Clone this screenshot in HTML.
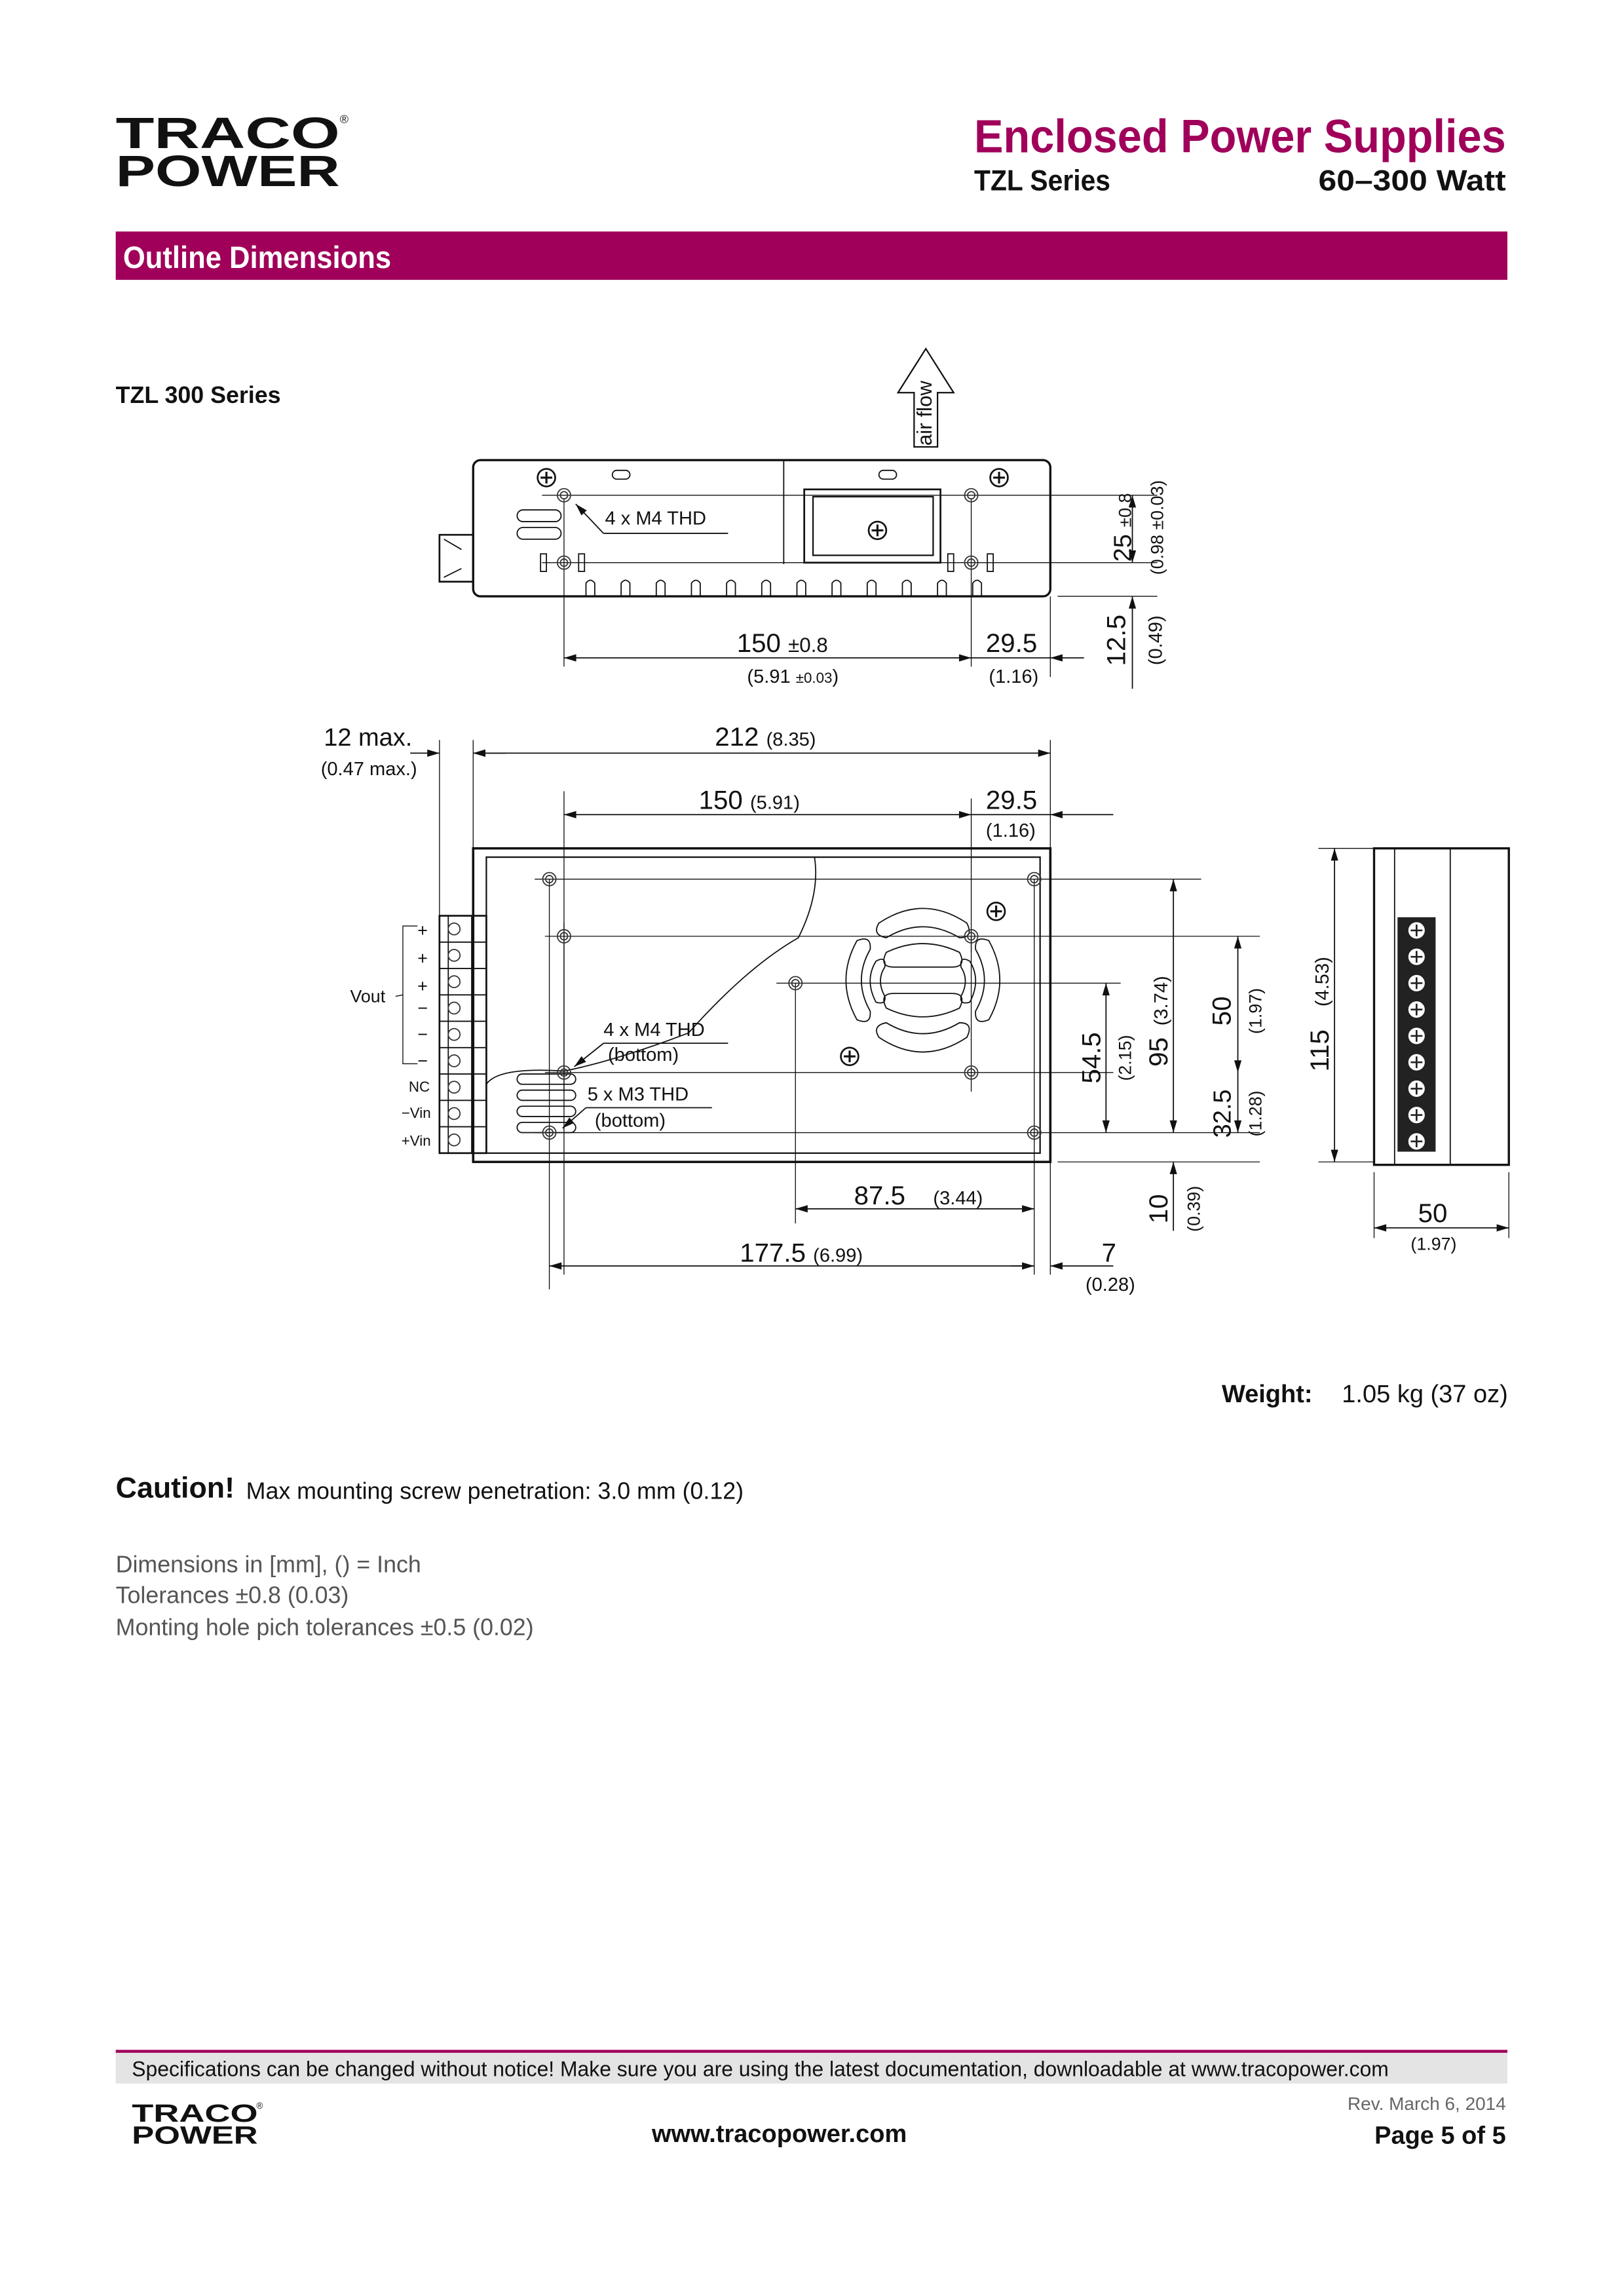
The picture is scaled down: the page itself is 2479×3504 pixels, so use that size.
<!DOCTYPE html>
<html><head><meta charset="utf-8"><style>
html,body{margin:0;padding:0;background:#fff}
svg{display:block}
text{font-family:"Liberation Sans",sans-serif;fill:#111}
</style></head><body>
<svg width="2479" height="3504" viewBox="0 0 1108.6 1567" xmlns="http://www.w3.org/2000/svg">
<defs>
<marker id="a" viewBox="0 0 10 6" refX="10" refY="3" markerWidth="14" markerHeight="5" markerUnits="userSpaceOnUse" orient="auto-start-reverse"><path d="M0,0L10,3L0,6z" fill="#111"/></marker>
<g id="hole"><circle r="4.5" fill="none" stroke="#333" stroke-width="0.8"/><circle r="2.5" fill="none" stroke="#333" stroke-width="0.8"/></g>
<g id="scr"><circle r="6" fill="#fff" stroke="#111" stroke-width="1.2"/><path d="M-4,0H4M0,-4V4" stroke="#111" stroke-width="1.4"/></g>
</defs>
<!-- header -->
<text x="79" y="101" font-size="30" font-weight="bold" textLength="153" lengthAdjust="spacingAndGlyphs">TRACO</text>
<text x="232" y="84" font-size="8">®</text>
<text x="79" y="127" font-size="30" font-weight="bold" textLength="153" lengthAdjust="spacingAndGlyphs">POWER</text>
<text x="665" y="104" font-size="32" font-weight="bold" textLength="363" lengthAdjust="spacingAndGlyphs" style="fill:#a0005a">Enclosed Power Supplies</text>
<text x="665" y="130" font-size="20" font-weight="bold" textLength="93" lengthAdjust="spacingAndGlyphs">TZL Series</text>
<text x="900" y="130" font-size="20" font-weight="bold" textLength="128" lengthAdjust="spacingAndGlyphs">60–300 Watt</text>
<rect x="79" y="158" width="950" height="33" fill="#a0005a"/>
<text x="84" y="183" font-size="21" font-weight="bold" textLength="183" lengthAdjust="spacingAndGlyphs" style="fill:#fff">Outline Dimensions</text>
<text x="79" y="275" font-size="16" font-weight="bold">TZL 300 Series</text>

<g stroke="#111" fill="none" stroke-width="0.8">
<path d="M632,238L651,268H640V305H624V268H613Z" stroke-width="1"/>
<path d="M300,365H323V397H300Z" stroke-width="1.2"/>
<path d="M303,368L315,375M303,394L315,388"/>
<rect x="323" y="314" width="394" height="93" rx="5" stroke-width="1.5"/>
<path d="M535,314V385"/>
<rect x="549" y="334" width="93" height="50" stroke-width="1.2"/>
<rect x="555" y="339" width="82" height="40" stroke-width="1"/>
<rect x="418" y="321" width="12" height="6" rx="3"/><rect x="600" y="321" width="12" height="6" rx="3"/>
<rect x="353" y="348" width="30" height="8" rx="4"/><rect x="353" y="360" width="30" height="8" rx="4"/>
<rect x="369" y="378" width="4" height="12"/><rect x="395" y="378" width="4" height="12"/>
<rect x="647" y="378" width="4" height="12"/><rect x="674" y="378" width="4" height="12"/>
<g id="tabs"><path d="M400,407V398Q403,394 406,398V407"/></g>
<use href="#tabs" x="24"/><use href="#tabs" x="48"/><use href="#tabs" x="72"/><use href="#tabs" x="96"/><use href="#tabs" x="120"/><use href="#tabs" x="144"/><use href="#tabs" x="168"/><use href="#tabs" x="192"/><use href="#tabs" x="216"/><use href="#tabs" x="240"/><use href="#tabs" x="264"/>
<path d="M370,338H790M370,384H790M722,407H790" stroke-width="0.6"/>
<path d="M385,340V455M663,340V455M717,407V462" stroke-width="0.6"/>
<path d="M412,364H497"/><path d="M412,364L393,344" marker-end="url(#a)"/>
<path d="M385,449H663" marker-start="url(#a)" marker-end="url(#a)"/>
<path d="M663,449H717"/><path d="M740,449H717" marker-end="url(#a)"/>
<path d="M773,338V384" marker-start="url(#a)" marker-end="url(#a)"/>
<path d="M773,470V407" marker-end="url(#a)"/>

<path d="M300,505V625M323,505V579M385,540V870M717,505V870M663,545V650" stroke-width="0.6"/>
<path d="M280,514H300" marker-end="url(#a)"/><path d="M345,514H323" marker-end="url(#a)"/>
<path d="M323,514H717" marker-start="url(#a)" marker-end="url(#a)"/>
<path d="M385,556H663" marker-start="url(#a)" marker-end="url(#a)"/>
<path d="M663,556H717"/><path d="M760,556H717" marker-end="url(#a)"/>
<rect x="323" y="579" width="394" height="214" stroke-width="1.6"/>
<rect x="332" y="585" width="378" height="202" stroke-width="1"/>
<path d="M365,600H820M372,639H860M530,671H765M372,732H760M365,773H860M722,793H860" stroke-width="0.6"/>
<path d="M375,600V880M543,671V835M706,600V870M663,639V745M385,630V745" stroke-width="0.6"/>
<path d="M600,630Q630,610 660,630Q665,640 655,640Q630,625 605,640Q595,638 600,630Z"/>
<path d="M605,650Q630,638 655,650Q660,660 650,660H610Q600,660 605,650Z"/>
<path d="M600,708Q630,728 660,708Q665,698 655,698Q630,713 605,698Q595,700 600,708Z"/>
<path d="M605,688Q630,700 655,688Q660,678 650,678H610Q600,678 605,688Z"/>
<path d="M585,642Q570,669 585,696Q595,700 594,690Q582,669 594,648Q595,638 585,642Z"/>
<path d="M675,642Q690,669 675,696Q665,700 666,690Q678,669 666,648Q665,638 675,642Z"/>
<path d="M598,656Q590,669 598,684Q605,686 604,680Q598,669 604,660Q605,652 598,656Z"/>
<path d="M662,656Q670,669 662,684Q655,686 656,680Q662,669 656,660Q655,652 662,656Z"/>
<rect x="353" y="733" width="40" height="7" rx="3.5"/><rect x="353" y="744" width="40" height="7" rx="3.5"/><rect x="353" y="755" width="40" height="7" rx="3.5"/><rect x="353" y="766" width="40" height="7" rx="3.5"/>
<path d="M332,740Q340,728 385,731Q420,724 470,705Q510,660 545,640Q560,610 556,585"/>
<path d="M412,712H497M400,756H486"/>
<path d="M412,712L392,728" marker-end="url(#a)"/><path d="M400,756L384,770" marker-end="url(#a)"/>
<rect x="300" y="625" width="32" height="162" stroke-width="1.2"/>
<path d="M306,625V787M322,625V787"/>
<path d="M300,643H332M300,661H332M300,679H332M300,697H332M300,715H332M300,733H332M300,751H332M300,769H332"/>
<path d="M285,632H275V726H285M275,679L270,680" stroke-width="0.6"/>
<path d="M755,671V773" marker-start="url(#a)" marker-end="url(#a)"/>
<path d="M801,600V773" marker-start="url(#a)" marker-end="url(#a)"/>
<path d="M801,840V793" marker-end="url(#a)"/>
<path d="M845,639V732" marker-start="url(#a)" marker-end="url(#a)"/>
<path d="M845,732V773" marker-end="url(#a)"/>
<path d="M911,579V793" marker-start="url(#a)" marker-end="url(#a)"/>
<path d="M900,579H938M900,793H938" stroke-width="0.6"/>
<path d="M543,825H706" marker-start="url(#a)" marker-end="url(#a)"/>
<path d="M375,864H706" marker-start="url(#a)" marker-end="url(#a)"/>
<path d="M690,864H706"/><path d="M760,864H717" marker-end="url(#a)"/>
<rect x="938" y="579" width="92" height="216" stroke-width="1.5"/>
<path d="M952,579V795M990,579V795" stroke-width="0.8"/>
<path d="M938,800V845M1030,800V845" stroke-width="0.6"/>
<path d="M938,838H1030" marker-start="url(#a)" marker-end="url(#a)"/>
</g>
<rect x="954" y="626" width="26" height="160" fill="#222"/>
<g fill="#fff" stroke="#222" stroke-width="0.8">
<circle cx="967" cy="635" r="6"/><circle cx="967" cy="653" r="6"/><circle cx="967" cy="671" r="6"/><circle cx="967" cy="689" r="6"/><circle cx="967" cy="707" r="6"/><circle cx="967" cy="725" r="6"/><circle cx="967" cy="743" r="6"/><circle cx="967" cy="761" r="6"/><circle cx="967" cy="779" r="6"/>
</g>
<g stroke="#222" stroke-width="1.2"><path d="M963,635h8M967,631v8M963,653h8M967,649v8M963,671h8M967,667v8M963,689h8M967,685v8M963,707h8M967,703v8M963,725h8M967,721v8M963,743h8M967,739v8M963,761h8M967,757v8M963,779h8M967,775v8"/></g>
<g fill="#fff" stroke="#333" stroke-width="0.8">
<circle cx="310" cy="634" r="4"/><circle cx="310" cy="652" r="4"/><circle cx="310" cy="670" r="4"/><circle cx="310" cy="688" r="4"/><circle cx="310" cy="706" r="4"/><circle cx="310" cy="724" r="4"/><circle cx="310" cy="742" r="4"/><circle cx="310" cy="760" r="4"/><circle cx="310" cy="778" r="4"/>
</g>
<use href="#hole" x="385" y="338"/><use href="#hole" x="663" y="338"/><use href="#hole" x="385" y="384"/><use href="#hole" x="663" y="384"/>
<use href="#scr" x="373" y="326"/><use href="#scr" x="682" y="326"/><use href="#scr" x="599" y="362"/>
<use href="#hole" x="375" y="600"/><use href="#hole" x="706" y="600"/><use href="#hole" x="385" y="639"/><use href="#hole" x="663" y="639"/><use href="#hole" x="543" y="671"/><use href="#hole" x="385" y="732"/><use href="#hole" x="663" y="732"/><use href="#hole" x="375" y="773"/><use href="#hole" x="706" y="773"/>
<use href="#scr" x="680" y="622"/><use href="#scr" x="580" y="721"/>

<text transform="translate(636,282) rotate(-90)" font-size="14" text-anchor="middle">air flow</text>
<text x="413" y="358" font-size="13">4 x M4 THD</text>
<text x="503" y="445" font-size="18">150 <tspan font-size="14">±0.8</tspan></text>
<text x="510" y="466" font-size="13">(5.91 <tspan font-size="10">±0.03</tspan>)</text>
<text x="673" y="445" font-size="18">29.5</text><text x="675" y="466" font-size="13">(1.16)</text>
<text transform="translate(766,360) rotate(-90)" font-size="17" text-anchor="middle" dy="6">25 <tspan font-size="12">±0.8</tspan></text>
<text transform="translate(790,360) rotate(-90)" font-size="12" text-anchor="middle" dy="4">(0.98 ±0.03)</text>
<text transform="translate(762,437) rotate(-90)" font-size="18" text-anchor="middle" dy="6">12.5</text>
<text transform="translate(789,437) rotate(-90)" font-size="13" text-anchor="middle" dy="4">(0.49)</text>
<text x="221" y="509" font-size="17">12 max.</text><text x="219" y="529" font-size="13">(0.47 max.)</text>
<text x="488" y="509" font-size="18">212 <tspan font-size="13">(8.35)</tspan></text>
<text x="477" y="552" font-size="18">150 <tspan font-size="13">(5.91)</tspan></text>
<text x="673" y="552" font-size="18">29.5</text><text x="673" y="571" font-size="13">(1.16)</text>
<g font-size="12"><text x="285" y="639">+</text><text x="285" y="658">+</text><text x="285" y="677">+</text><text x="285" y="692">−</text><text x="285" y="710">−</text><text x="285" y="728">−</text></g>
<text x="239" y="684" font-size="12">Vout</text>
<text x="279" y="745" font-size="10">NC</text><text x="274" y="763" font-size="10">−Vin</text><text x="274" y="782" font-size="10">+Vin</text>
<text x="412" y="707" font-size="13">4 x M4 THD</text><text x="415" y="724" font-size="13">(bottom)</text>
<text x="401" y="751" font-size="13">5 x M3 THD</text><text x="406" y="769" font-size="13">(bottom)</text>
<text transform="translate(745,722) rotate(-90)" font-size="18" text-anchor="middle" dy="6">54.5</text>
<text transform="translate(768,722) rotate(-90)" font-size="12" text-anchor="middle" dy="4">(2.15)</text>
<text transform="translate(791,718) rotate(-90)" font-size="18" text-anchor="middle" dy="6">95</text>
<text transform="translate(793,683) rotate(-90)" font-size="13" text-anchor="middle" dy="4">(3.74)</text>
<text transform="translate(834,690) rotate(-90)" font-size="18" text-anchor="middle" dy="6">50</text>
<text transform="translate(857,690) rotate(-90)" font-size="12" text-anchor="middle" dy="4">(1.97)</text>
<text transform="translate(834,760) rotate(-90)" font-size="17" text-anchor="middle" dy="6">32.5</text>
<text transform="translate(857,760) rotate(-90)" font-size="12" text-anchor="middle" dy="4">(1.28)</text>
<text transform="translate(791,825) rotate(-90)" font-size="18" text-anchor="middle" dy="6">10</text>
<text transform="translate(815,825) rotate(-90)" font-size="12" text-anchor="middle" dy="4">(0.39)</text>
<text transform="translate(901,717) rotate(-90)" font-size="18" text-anchor="middle" dy="6">115</text>
<text transform="translate(903,670) rotate(-90)" font-size="13" text-anchor="middle" dy="4">(4.53)</text>
<text x="583" y="822" font-size="18">87.5</text><text x="637" y="822" font-size="13">(3.44)</text>
<text x="505" y="861" font-size="18">177.5 <tspan font-size="13">(6.99)</tspan></text>
<text x="752" y="861" font-size="18">7</text><text x="741" y="881" font-size="13">(0.28)</text>
<text x="968" y="834" font-size="18">50</text><text x="963" y="853" font-size="12">(1.97)</text>

<text x="834" y="957" font-size="17" font-weight="bold">Weight:</text>
<text x="916" y="957" font-size="17">1.05 kg  (37 oz)</text>
<text x="79" y="1022" font-size="20" font-weight="bold">Caution!</text>
<text x="168" y="1023" font-size="16">Max mounting screw penetration: 3.0 mm (0.12)</text>
<g font-size="16"><text x="79" y="1073" style="fill:#555">Dimensions in [mm], () = Inch</text><text x="79" y="1094" style="fill:#555">Tolerances  ±0.8 (0.03)</text><text x="79" y="1116" style="fill:#555">Monting hole pich tolerances ±0.5 (0.02)</text></g>

<rect x="79" y="1400" width="950" height="22" fill="#e4e4e4"/>
<rect x="79" y="1399" width="950" height="2" fill="#a0005a"/>
<text x="90" y="1417" font-size="14.5" textLength="858" lengthAdjust="spacingAndGlyphs">Specifications can be changed without notice! Make sure you are using the latest documentation, downloadable at www.tracopower.com</text>
<text x="90" y="1448" font-size="17" font-weight="bold" textLength="86" lengthAdjust="spacingAndGlyphs">TRACO</text><text x="175" y="1439" font-size="6">®</text>
<text x="90" y="1463" font-size="17" font-weight="bold" textLength="86" lengthAdjust="spacingAndGlyphs">POWER</text>
<text x="532" y="1462" font-size="17" font-weight="bold" text-anchor="middle">www.tracopower.com</text>
<text x="1028" y="1440" font-size="12.5" text-anchor="end" style="fill:#666">Rev. March 6, 2014</text>
<text x="1028" y="1463" font-size="17" font-weight="bold" text-anchor="end">Page 5 of 5</text>
</svg>
</body></html>
